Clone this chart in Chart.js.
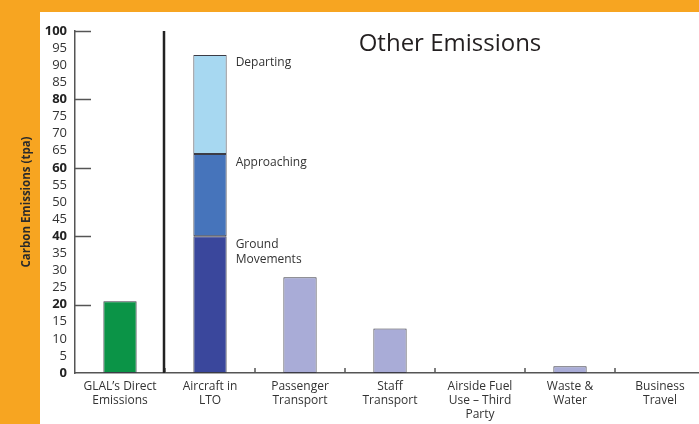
<!DOCTYPE html>
<html>
<head>
<meta charset="utf-8">
<script src="https://cdn.jsdelivr.net/npm/chart.js@4/dist/chart.umd.min.js"></script>
<style>
  html, body { margin: 0; padding: 0; }
  body { width: 699px; height: 424px; overflow: hidden; background: #f7a521; position: relative; }
  .panel { position: absolute; left: 40px; top: 12px; right: 0; bottom: 0; background: #fff; }
  .wrap { position: absolute; left: 0; top: 0; width: 720px; height: 424px; }
</style>
</head>
<body>
<div class="panel"></div>
<div class="wrap"><canvas id="chart"></canvas></div>
<script>
  /* ── Data ─────────────────────────────────────────────── */
  const CATEGORIES = [
    ['GLAL\u2019s Direct', 'Emissions'],
    ['Aircraft in', 'LTO'],
    ['Passenger', 'Transport'],
    ['Staff', 'Transport'],
    ['Airside Fuel', 'Use \u2013 Third', 'Party'],
    ['Waste &', 'Water'],
    ['Business', 'Travel']
  ];
  const DIRECT      = [21, null, null, null, null, null, null];
  const GROUND      = [null, 40, null, null, null, null, null];
  const APPROACHING = [null, 24, null, null, null, null, null];
  const DEPARTING   = [null, 29, null, null, null, null, null];
  const OTHER       = [null, null, 28, 13, 0, 2, 0];

  const Y_MIN = 0, Y_MAX = 100, Y_STEP = 5, Y_MAJOR = 20;
  const TITLE = 'Other Emissions';
  const Y_TITLE = 'Carbon Emissions (tpa)';
  const SEGMENT_LABELS = [
    { ds: 3, lines: ['Departing'] },
    { ds: 2, lines: ['Approaching'] },
    { ds: 1, lines: ['Ground', 'Movements'] }
  ];

  const FONT = "'Open Sans', 'Noto Sans', sans-serif";
  const AXIS = '#555555';
  const TEXT = '#333333';
  const EDGE = '#3c3c46';

  const isMajor = c => !!(c && c.tick && c.tick.value % Y_MAJOR === 0);

  function bar(label, data, color) {
    return {
      label, data,
      backgroundColor: color,
      borderColor: EDGE,
      borderWidth: 1,
      borderSkipped: false,
      barPercentage: 0.37,
      categoryPercentage: 1
    };
  }

  /* ── Extras: inward ticks, separator, annotations, title ─ */
  const extras = {
    id: 'extras',
    afterDatasetsDraw(chart) {
      const { ctx, chartArea: a, scales: { x, y } } = chart;
      ctx.save();

      // inward major ticks on y axis
      ctx.strokeStyle = AXIS;
      ctx.lineWidth = 1.5;
      for (let v = Y_MAJOR; v <= Y_MAX; v += Y_MAJOR) {
        const py = Math.round(y.getPixelForValue(v)) + 0.5;
        ctx.beginPath();
        ctx.moveTo(a.left, py);
        ctx.lineTo(a.left + 16, py);
        ctx.stroke();
      }

      // category boundary ticks on x axis
      for (let i = 1; i < CATEGORIES.length; i++) {
        const px = Math.round((x.getPixelForValue(i - 1) + x.getPixelForValue(i)) / 2);
        ctx.beginPath();
        ctx.moveTo(px, a.bottom);
        ctx.lineTo(px, a.bottom - 5);
        ctx.stroke();
      }

      // separator between direct and other emissions
      const sx = Math.round((x.getPixelForValue(0) + x.getPixelForValue(1)) / 2) - 1;
      ctx.strokeStyle = '#222';
      ctx.lineWidth = 2.5;
      ctx.beginPath();
      ctx.moveTo(sx, y.getPixelForValue(Y_MAX));
      ctx.lineTo(sx, a.bottom);
      ctx.stroke();

      // stack segment labels
      ctx.fillStyle = TEXT;
      ctx.font = '12px ' + FONT;
      ctx.textAlign = 'left';
      ctx.textBaseline = 'middle';
      SEGMENT_LABELS.forEach(s => {
        const el = chart.getDatasetMeta(s.ds).data[1];
        const tx = el.x + el.width / 2 + 9;
        s.lines.forEach((t, i) => ctx.fillText(t, tx, el.y + 8 + i * 15));
      });

      // chart title
      ctx.fillStyle = '#231f20';
      ctx.font = '24px ' + FONT;
      ctx.textAlign = 'center';
      ctx.textBaseline = 'alphabetic';
      ctx.fillText(TITLE, x.getPixelForValue(4) - 30, 51);

      ctx.restore();
    }
  };

  new Chart(document.getElementById('chart'), {
    type: 'bar',
    data: {
      labels: CATEGORIES,
      datasets: [
        bar('Direct',           DIRECT,      '#0b9447'),
        bar('Ground Movements', GROUND,      '#3a479c'),
        bar('Approaching',      APPROACHING, '#4674bb'),
        bar('Departing',        DEPARTING,   '#a7d8f1'),
        bar('Other',            OTHER,       '#a9acd7')
      ]
    },
    options: {
      responsive: true,
      maintainAspectRatio: false,
      animation: false,
      layout: { padding: { top: 31, right: 15, bottom: 0, left: 0 } },
      plugins: { legend: { display: false }, tooltip: { enabled: false } },
      scales: {
        x: {
          stacked: true,
          grid: { display: false, drawTicks: false },
          border: { display: true, color: AXIS, width: 1.5 },
          ticks: {
            color: TEXT, padding: 6, maxRotation: 0, autoSkip: false,
            font: { family: FONT, size: 12, lineHeight: 1.2 }
          },
          afterFit: s => { s.height = 51; }
        },
        y: {
          stacked: true,
          min: Y_MIN, max: Y_MAX,
          grid: { display: false, drawTicks: false },
          border: { display: true, color: AXIS, width: 1.5 },
          ticks: {
            stepSize: Y_STEP,
            autoSkip: false,
            padding: 8,
            color: c => isMajor(c) ? '#222' : TEXT,
            font: c => ({ family: FONT, size: 13, weight: isMajor(c) ? 'bold' : 'normal' })
          },
          title: {
            display: true, text: Y_TITLE, color: '#2b2b2b',
            font: { family: FONT, size: 11.5, weight: 'bold' },
            padding: { top: 20, bottom: 0 }
          },
          afterFit: s => { s.width = 75; }
        }
      }
    },
    plugins: [extras]
  });
</script>
</body>
</html>
